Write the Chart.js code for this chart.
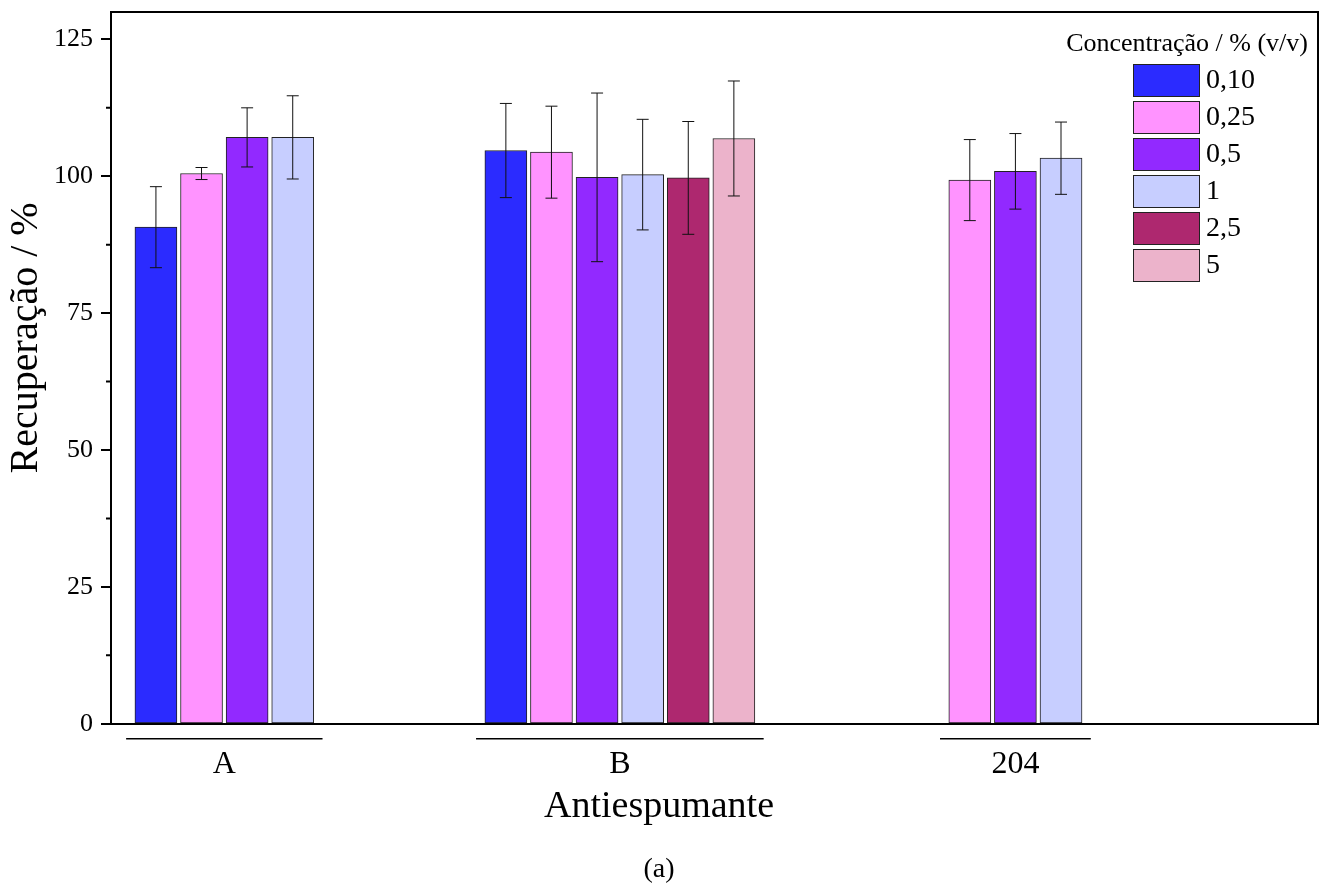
<!DOCTYPE html>
<html>
<head>
<meta charset="utf-8">
<script src="https://cdn.jsdelivr.net/npm/chart.js@4"></script>
<style>
  html, body { margin: 0; padding: 0; background: #fff; }
  #wrap { width: 1319px; height: 896px; }
</style>
</head>
<body>
<div id="wrap"><canvas id="chart"></canvas></div>
<script>
var groups = ['A', 'B', '204'];
var concLabels = ['0,10', '0,25', '0,5', '1', '2,5', '5'];

var c010 = [90.7, 104.7, null];
var c025 = [100.5, 104.4, 99.3];
var c05 = [107.1, 99.8, 100.9];
var c1 = [107.1, 100.3, 103.3];
var c25 = [null, 99.7, null];
var c5 = [null, 106.9, null];

var e010 = [7.4, 8.6, null];
var e025 = [1.1, 8.4, 7.4];
var e05 = [5.4, 15.4, 6.9];
var e1 = [7.6, 10.1, 6.6];
var e25 = [null, 10.3, null];
var e5 = [null, 10.5, null];

var yTicks = [0, 25, 50, 75, 100, 125];

var colors = ['#2b2bff', '#ff93ff', '#9229ff', '#c7ceff', '#ae286f', '#ecb3cb'];
var values = [c010, c025, c05, c1, c25, c5];
var errors = [e010, e025, e05, e1, e25, e5];

var serif = '"Liberation Serif", "Times New Roman", serif';
var barPitch = 45.6;

var datasets = [];
for (var i = 0; i < concLabels.length; i++) {
  datasets.push({
    label: concLabels[i],
    data: values[i].map(function (v, j) { return { x: j + 1, y: v }; }),
    errors: errors[i],
    backgroundColor: colors[i],
    borderColor: '#222',
    borderWidth: 1,
    borderSkipped: false,
    barThickness: barPitch,
    maxBarThickness: 42,
    skipNull: true
  });
}

// error bars, minor ticks, frame, group brackets and legend
var extras = {
  id: 'extras',
  afterDatasetsDraw: function (chart) {
    var ctx = chart.ctx, ys = chart.scales.y;
    ctx.save();
    ctx.strokeStyle = '#111';
    ctx.lineWidth = 1;
    chart.data.datasets.forEach(function (ds, di) {
      var meta = chart.getDatasetMeta(di);
      meta.data.forEach(function (bar, k) {
        var v = ds.data[k].y, e = ds.errors[k];
        if (v == null || e == null) return;
        var top = ys.getPixelForValue(v + e), bot = ys.getPixelForValue(v - e);
        ctx.beginPath();
        ctx.moveTo(bar.x, top); ctx.lineTo(bar.x, bot);
        ctx.moveTo(bar.x - 6, top); ctx.lineTo(bar.x + 6, top);
        ctx.moveTo(bar.x - 6, bot); ctx.lineTo(bar.x + 6, bot);
        ctx.stroke();
      });
    });
    ctx.restore();
  },
  afterDraw: function (chart) {
    var ctx = chart.ctx, area = chart.chartArea;
    var xs = chart.scales.x, ys = chart.scales.y;
    ctx.save();
    ctx.strokeStyle = '#000';
    ctx.lineWidth = 2;
    // frame top + right
    ctx.beginPath();
    ctx.moveTo(area.left, area.top); ctx.lineTo(area.right, area.top); ctx.lineTo(area.right, area.bottom);
    ctx.stroke();
    // minor ticks
    ctx.beginPath();
    for (var t = 0; t < yTicks.length - 1; t++) {
      var py = ys.getPixelForValue((yTicks[t] + yTicks[t + 1]) / 2);
      ctx.moveTo(area.left - 5, py); ctx.lineTo(area.left, py);
    }
    ctx.stroke();
    // group brackets under the axis
    ctx.lineWidth = 1.5;
    ctx.beginPath();
    groups.forEach(function (g, gi) {
      var n = values.filter(function (s) { return s[gi] != null; }).length;
      var cx = xs.getPixelForValue(gi + 1), half = n * barPitch / 2 + 7;
      ctx.moveTo(cx - half, area.bottom + 15); ctx.lineTo(cx + half, area.bottom + 15);
    });
    ctx.stroke();
    // legend
    ctx.fillStyle = '#000';
    ctx.font = '26px ' + serif;
    ctx.textAlign = 'right';
    ctx.textBaseline = 'middle';
    ctx.fillText('Concentração / % (v/v)', area.right - 10, 44);
    ctx.font = '28px ' + serif;
    ctx.textAlign = 'left';
    ctx.lineWidth = 1;
    ctx.strokeStyle = '#222';
    chart.data.datasets.forEach(function (ds, di) {
      var by = 64 + di * 37;
      ctx.fillStyle = ds.backgroundColor;
      ctx.fillRect(1133, by, 67, 33);
      ctx.strokeRect(1133.5, by + 0.5, 66, 32);
      ctx.fillStyle = '#000';
      ctx.fillText(ds.label, 1206, by + 17);
    });
    ctx.restore();
  }
};

new Chart(document.getElementById('chart'), {
  type: 'bar',
  data: { datasets: datasets },
  options: {
    responsive: true,
    maintainAspectRatio: false,
    animation: false,
    layout: { padding: { top: 12, right: 1, left: 0, bottom: 0 } },
    plugins: {
      legend: { display: false },
      tooltip: { enabled: false },
      subtitle: {
        display: true,
        position: 'bottom',
        text: 'Antiespumante',
        color: '#000',
        font: { family: serif, size: 38, weight: 'normal' },
        padding: { top: 0, bottom: 13 }
      },
      title: {
        display: true,
        position: 'bottom',
        text: '(a)',
        color: '#000',
        font: { family: serif, size: 28, weight: 'normal' },
        padding: { top: 10, bottom: 10 }
      }
    },
    scales: {
      x: {
        type: 'linear',
        offset: false,
        min: 0.7135,
        max: 3.765,
        afterBuildTicks: function (scale) {
          scale.ticks = groups.map(function (g, i) { return { value: i + 1 }; });
        },
        afterFit: function (scale) { scale.height = 60; scale.paddingLeft = 0; scale.paddingRight = 0; },
        ticks: {
          autoSkip: false,
          maxRotation: 0,
          padding: 22,
          color: '#000',
          font: { family: serif, size: 32 },
          callback: function (v) { return groups[v - 1]; }
        },
        grid: { display: false, drawTicks: false, offset: false },
        border: { display: true, color: '#000', width: 2 }
      },
      y: {
        min: 0,
        max: 130,
        afterBuildTicks: function (scale) {
          scale.ticks = yTicks.map(function (v) { return { value: v }; });
        },
        afterFit: function (scale) { scale.width = 111; scale.paddingTop = 0; scale.paddingBottom = 0; },
        ticks: {
          padding: 8,
          color: '#000',
          font: { family: serif, size: 26 }
        },
        grid: { drawOnChartArea: false, drawTicks: true, tickLength: 10, color: '#000', lineWidth: 2 },
        border: { display: true, color: '#000', width: 2 },
        title: {
          display: true,
          text: '      Recuperação / %',
          color: '#000',
          font: { family: serif, size: 40 },
          padding: { top: 2, bottom: 0 }
        }
      }
    }
  },
  plugins: [extras]
});
</script>
</body>
</html>
